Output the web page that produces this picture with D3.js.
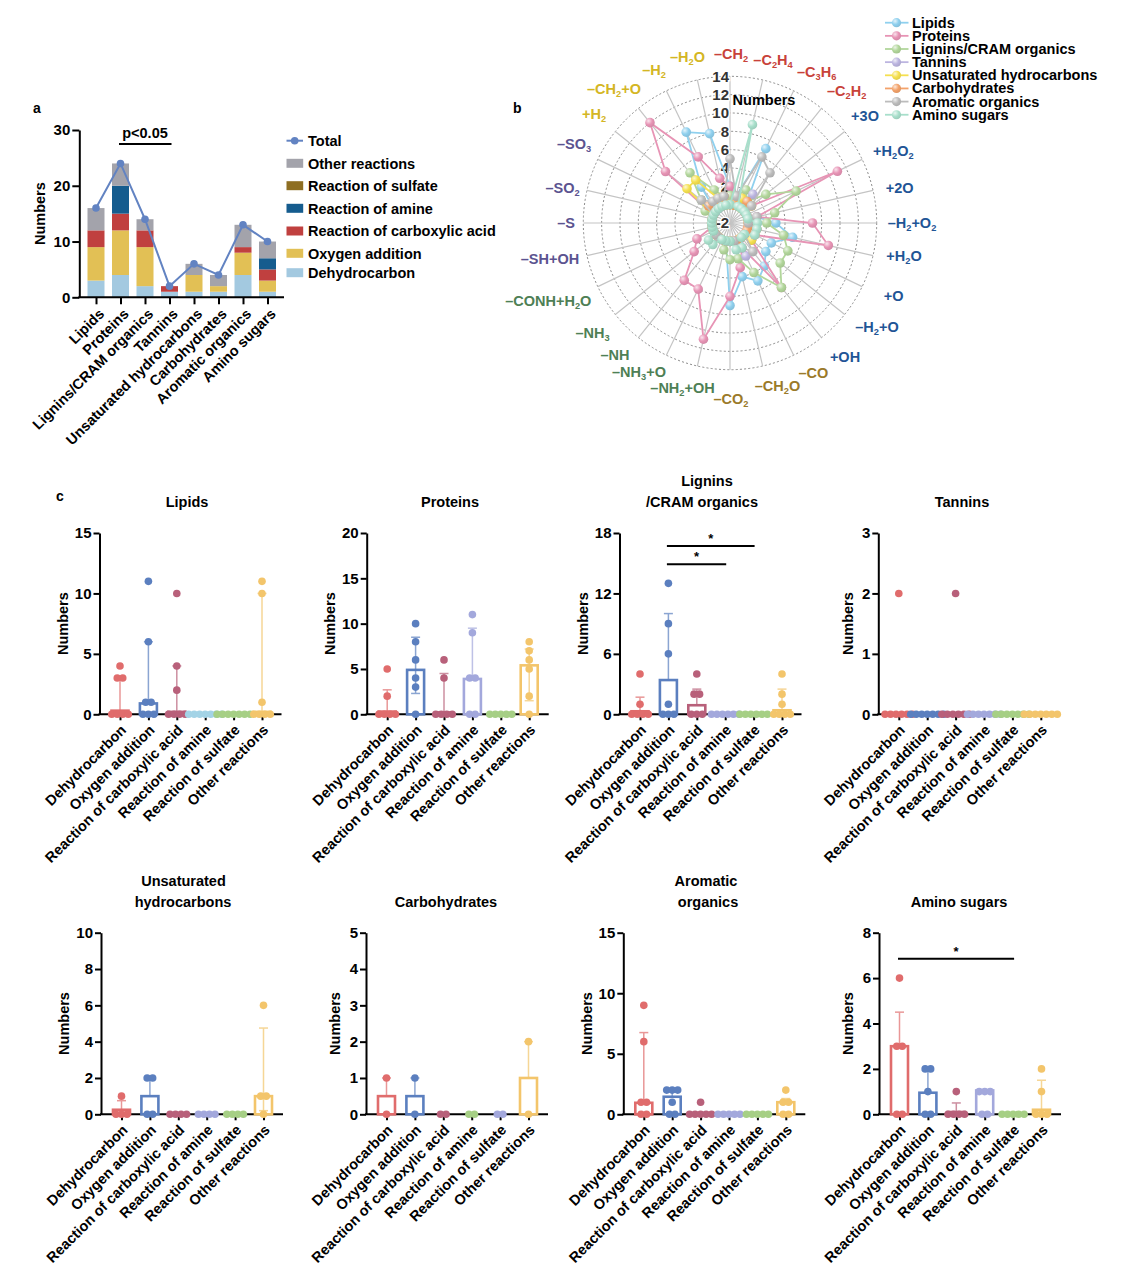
<!DOCTYPE html>
<html><head><meta charset="utf-8">
<script src="https://cdn.jsdelivr.net/npm/d3@7"></script>
<style>
body{margin:0;background:#fff}
svg{display:block}
text{font-family:"Liberation Sans",Arial,sans-serif;font-weight:bold;fill:#000}
</style></head>
<body><svg id="chart" width="1129" height="1286"></svg>
<script>
// ---------------- DATA ----------------
const classes = ["Lipids","Proteins","Lignins/CRAM organics","Tannins","Unsaturated hydrocarbons","Carbohydrates","Aromatic organics","Amino sugars"];
const reactionTypes = ["Dehydrocarbon","Oxygen addition","Reaction of carboxylic acid","Reaction of amine","Reaction of sulfate","Other reactions"];
// panel a stacked counts
const stackDehydrocarbon = [3,4,2,1,1,1,4,1];
const stackOxygen        = [6,8,7,0,3,1,4,2];
const stackCarboxylic    = [3,3,3,1,0,0,1,2];
const stackAmine         = [0,5,0,0,0,0,0,2];
const stackSulfate       = [0,0,0,0,0,0,0,0];
const stackOther         = [4,4,2,0,2,2,4,3];
const totals             = [16,24,14,2,6,4,13,10];
const aTicks = [0,10,20,30];

// panel b radar
const radarCats = ["–CH2","–C2H4","–C3H6","–C2H2","+3O","+H2O2","+2O","–H2+O2","+H2O","+O","–H2+O","+OH","–CO","–CH2O","–CO2","–NH2+OH","–NH3+O","–NH","–NH3","–CONH+H2O","–SH+OH","–S","–SO2","–SO3","+H2","–CH2+O","–H2","–H2O"];
const radarGroupOfCat = [0,0,0,0,1,1,1,1,1,1,1,1,2,2,2,3,3,3,3,3,4,4,4,4,5,5,5,5];
const radarTicks = [-2,2,4,6,8,10,12,14];
const radarRings = [0,2,4,6,8,10,12,14];
const radarLipids   = [2,1,7,1,0,0,1,3,5,3,3,4,5,4,7,0,0,0,0,0,0,0,0,0,0,3,9,8];
const radarProteins = [2,1,1,1,1,11,1,7,9,1,1,7,1,3,6,11,6,6,3,2,0,0,0,0,7,12,6,3];
const radarLignins  = [1,1,2,1,3,6,3,2,4,5,5,7,4,2,2,1,0,0,0,0,0,0,0,1,2,5,2,1];
const radarTannins  = [0,0,0,2,0,0,0,0,0,0,0,0,2,0,0,0,0,0,0,0,0,0,0,0,0,0,0,0];
const radarUnsat    = [0,0,1,0,1,0,0,0,1,1,1,0,0,0,0,0,0,0,0,0,0,0,0,0,4,4,1,0];
const radarCarbo    = [0,0,0,1,0,0,0,0,0,0,0,0,0,0,0,0,0,0,0,0,0,0,0,0,1,1,0,1];
const radarAromatic = [5,1,6,5,1,0,1,0,1,1,0,2,1,0,0,0,0,0,0,0,0,0,0,0,2,1,1,1];
const radarAmino    = [0,9,0,0,0,0,0,1,1,1,0,0,1,1,0,0,0,1,1,0,0,0,0,0,0,0,0,0];
const radarSeriesNames = ["Lipids","Proteins","Lignins/CRAM organics","Tannins","Unsaturated hydrocarbons","Carbohydrates","Aromatic organics","Amino sugars"];

// panel c
const lipidsDots = [[4,3,3,0,0,0,0],[11,6,1,1,0,0,0],[10,4,2,0,0,0,0],[0,0,0,0,0,0,0],[0,0,0,0,0,0,0],[11,10,1,0,0,0,0]];
const lipidsMean = [0.3,0.9,0.2,0,0,0.2];
const lipidsErrHi = [2.9,6,4,null,null,10];
const lipidsErrLo = [null,null,null,null,null,null];
const lipidsTicks = [0,5,10,15];

const proteinsDots = [[5,2,0,0,0,0],[10,8,6,4,3,0],[6,4,0,0,0,0],[11,9,4,4,0,0],[0,0,0,0,0],[8,7,6,5,2,0]];
const proteinsMean = [0.3,4.9,0.2,3.9,0,5.4];
const proteinsErrHi = [2.7,8.5,4.5,9.5,null,7.2];
const proteinsErrLo = [null,2.3,null,null,null,1.5];
const proteinsTicks = [0,5,10,15,20];

const ligninsDots = [[4,1,0,0,0,0],[13,9,6,1,0,0,0],[4,2,2,0,0,0],[0,0,0,0,0,0],[0,0,0,0,0,0],[4,2,1,0,0,0,0]];
const ligninsMean = [0.3,3.4,0.9,0,0,0.4];
const ligninsErrHi = [1.7,10,2.5,null,null,2.5];
const ligninsErrLo = [null,null,null,null,null,null];
const ligninsTicks = [0,6,12,18];
const ligninsSig = [[1,4,16.7],[1,3,14.9]];

const tanninsDots = [[2,0,0,0,0,0,0],[0,0,0,0,0,0,0],[2,0,0,0,0,0,0],[0,0,0,0,0,0,0],[0,0,0,0,0,0,0],[0,0,0,0,0,0,0]];
const tanninsMean = [0,0,0,0,0,0];
const tanninsErrHi = [null,null,null,null,null,null];
const tanninsErrLo = [null,null,null,null,null,null];
const tanninsTicks = [0,1,2,3];

const unsatDots = [[1,0,0,0],[2,2,0,0],[0,0,0,0],[0,0,0,0],[0,0,0,0],[6,1,1,0]];
const unsatMean = [0.25,1,0,0,0,1];
const unsatErrHi = [0.75,2,null,null,null,4.75];
const unsatErrLo = [null,null,null,null,null,0.2];
const unsatTicks = [0,2,4,6,8,10];

const carboDots = [[1,0],[1,0],[0,0],[0,0],[0,0],[2,0]];
const carboMean = [0.5,0.5,0,0,0,1];
const carboErrHi = [1,1,null,null,null,2];
const carboErrLo = [null,null,null,null,null,null];
const carboTicks = [0,1,2,3,4,5];

const aromaticDots = [[9,6,1,1,0,0],[2,2,2,1,0,0],[1,0,0,0,0,0],[0,0,0,0,0],[0,0,0,0,0],[2,1,1,0,0]];
const aromaticMean = [0.95,1.45,0.1,0,0,1.0];
const aromaticErrHi = [6.75,2,null,null,null,1.3];
const aromaticErrLo = [null,null,null,null,null,null];
const aromaticTicks = [0,5,10,15];

const aminoDots = [[6,3,3,0,0],[2,2,1,0,0],[1,0,0,0,0],[1,1,1,0,0],[0,0,0,0,0],[2,1,0,0,0]];
const aminoMean = [3,0.95,0.1,1.05,0,0.2];
const aminoErrHi = [4.5,2,0.5,null,null,1.5];
const aminoErrLo = [null,null,null,null,null,null];
const aminoTicks = [0,2,4,6,8];
const aminoSig = [[0,4,6.85]];

// ---------------- LAYOUT / STYLE ----------------
const FONT = '"Liberation Sans",Arial,sans-serif';
// radar label centres relative to the radar centre (layout only)
const radarLabelOffsets = [[1,-169],[43,-163],[86.7,-151.3],[116.7,-132],[135,-107],[163.3,-72],[169.7,-35.5],[182,-0.5],[174,33],[163.7,73],[147,103.7],[115,133.7],[83.3,149.5],[47.5,163],[1,176],[-47.5,164.5],[-91,148.7],[-115,132],[-137.5,109.5],[-181.7,78],[-180,36],[-164,0],[-167.5,-35.5],[-156,-79],[-136,-109],[-116,-134],[-76,-153],[-42.5,-166]];
const stackColors = {"Dehydrocarbon":"#a3c9e0","Oxygen addition":"#e2c055","Reaction of carboxylic acid":"#c0403f","Reaction of amine":"#155c8e","Reaction of sulfate":"#8e6e22","Other reactions":"#a3a3ab"};
const radarColors = ["#8fd0ee","#e794b5","#b2d69b","#bcb5e0","#f5e050","#f3a26a","#bcbcbc","#a8dfcb"];
const radarLabelColors = ["#c8423a","#1f5596","#9b7a2a","#4e8055","#5b5390","#d4b624"];
const cRed="#e06c6c", cBlue="#5b7fbf", cMauve="#b8607a", cLav="#a3a8dc", cGreen="#a6cf85", cYel="#f3c56b", cLBlue="#a3d3e6";
const defPal = [cRed,cBlue,cMauve,cLav,cGreen,cYel];
const fmtInt = d3.format("d");

const svg = d3.select("#chart");

svg.append("text").attr("x",33).attr("y",113).attr("font-size",14).text("a");
svg.append("text").attr("x",513).attr("y",113).attr("font-size",14).text("b");
svg.append("text").attr("x",56).attr("y",501).attr("font-size",14).text("c");

// ---------------- PANEL A ----------------
(function(){
  const y0=297.3, yTop=130;
  const y = d3.scaleLinear().domain([0,30]).range([y0,yTop]);
  const x = d3.scalePoint().domain(classes).range([96,267.5]);
  const bw = 17;
  const rows = classes.map((c,i)=>({cls:c,"Dehydrocarbon":stackDehydrocarbon[i],"Oxygen addition":stackOxygen[i],"Reaction of carboxylic acid":stackCarboxylic[i],"Reaction of amine":stackAmine[i],"Reaction of sulfate":stackSulfate[i],"Other reactions":stackOther[i]}));
  const series = d3.stack().keys(reactionTypes)(rows);
  const g = svg.append("g");
  g.selectAll("g.s").data(series).join("g").attr("fill",d=>stackColors[d.key])
    .selectAll("rect").data(d=>d).join("rect")
    .attr("x",d=>x(d.data.cls)-bw/2).attr("width",bw)
    .attr("y",d=>y(d[1])).attr("height",d=>y(d[0])-y(d[1]));
  const ya = g.append("g").attr("transform","translate(79.3,0)")
    .call(d3.axisLeft(y).tickValues(aTicks).tickFormat(fmtInt).tickSize(7).tickSizeOuter(0).tickPadding(2));
  ya.attr("font-family",FONT).attr("font-size",15).attr("font-weight","bold");
  ya.selectAll("path,line").attr("stroke","#000").attr("stroke-width",2);
  ya.selectAll("text").attr("fill","#000");
  const xa = g.append("g").attr("transform",`translate(0,${y0})`)
    .call(d3.axisBottom(x).tickSize(7).tickSizeOuter(0));
  xa.select(".domain").remove();
  xa.attr("font-family",FONT).attr("font-size",14.5).attr("font-weight","bold");
  xa.selectAll("line").attr("stroke","#000").attr("stroke-width",2);
  xa.selectAll("text").attr("fill","#000").attr("x",0).attr("y",0).attr("dy","0.35em")
    .attr("transform","translate(5,14) rotate(-45)").style("text-anchor","end");
  g.append("line").attr("x1",78.3).attr("x2",284).attr("y1",y0).attr("y2",y0).attr("stroke","#000").attr("stroke-width",2);
  const line = d3.line().x((d,i)=>x(classes[i])).y(d=>y(d));
  g.append("path").attr("d",line(totals)).attr("fill","none").attr("stroke","#6283c2").attr("stroke-width",2);
  g.selectAll("circle.t").data(totals).join("circle").attr("cx",(d,i)=>x(classes[i])).attr("cy",d=>y(d)).attr("r",3.8).attr("fill","#6283c2");
  const py = y(27.5);
  g.append("line").attr("x1",x(classes[1])-1.5).attr("x2",x(classes[3])+2).attr("y1",py).attr("y2",py).attr("stroke","#000").attr("stroke-width",2);
  g.append("text").attr("x",(x(classes[1])+x(classes[3]))/2).attr("y",py-6).attr("text-anchor","middle").attr("font-size",14.5).text("p<0.05");
  g.append("text").attr("transform",`translate(45,${(y0+yTop)/2}) rotate(-90)`).attr("text-anchor","middle").attr("font-size",14.5).text("Numbers");
  const legItems = ["Total","Other reactions","Reaction of sulfate","Reaction of amine","Reaction of carboxylic acid","Oxygen addition","Dehydrocarbon"];
  const legY = [140.7,163.3,185.7,208.3,231,253.3,272.7];
  legItems.forEach((k,i)=>{
    const yy = legY[i];
    if(k==="Total"){
      g.append("line").attr("x1",286.5).attr("x2",303).attr("y1",yy).attr("y2",yy).attr("stroke","#6283c2").attr("stroke-width",2);
      g.append("circle").attr("cx",294.7).attr("cy",yy).attr("r",3.8).attr("fill","#6283c2");
    } else {
      g.append("rect").attr("x",286.5).attr("y",yy-4.5).attr("width",16.7).attr("height",9).attr("fill",stackColors[k]);
    }
    g.append("text").attr("x",308).attr("y",yy).attr("dy","0.36em").attr("font-size",14.5).text(k);
  });
})();

// ---------------- PANEL B (radar) ----------------
(function(){
  const cx=730, cy=223;
  const r = d3.scaleLinear().domain([-2,14]).range([0,146.7]);
  const n = radarCats.length;
  const ang = i => i*2*Math.PI/n;
  const g = svg.append("g").attr("transform",`translate(${cx},${cy})`);
  const defs = svg.append("defs");
  radarColors.forEach((c,i)=>{
    const gr = defs.append("radialGradient").attr("id","rg"+i).attr("cx","35%").attr("cy","32%").attr("r","70%");
    gr.append("stop").attr("offset","0%").attr("stop-color",d3.interpolateRgb(c,"#ffffff")(0.75));
    gr.append("stop").attr("offset","55%").attr("stop-color",c);
    gr.append("stop").attr("offset","100%").attr("stop-color",d3.color(c).darker(0.25));
  });
  g.selectAll("circle.ring").data(radarRings).join("circle").attr("r",d=>r(d))
    .attr("fill","none").attr("stroke","#8a8a8a").attr("stroke-width",1).attr("stroke-dasharray","2,2.2");
  g.selectAll("line.sp").data(radarCats).join("line")
    .attr("x1",0).attr("y1",0)
    .attr("x2",(d,i)=>r(14)*Math.sin(ang(i))).attr("y2",(d,i)=>-r(14)*Math.cos(ang(i)))
    .attr("stroke","#c4c4c4").attr("stroke-width",1.2);
  g.selectAll("text.tk").data(radarTicks).join("text")
    .attr("x",-1).attr("y",d=>-r(d)).attr("dy","0.36em").attr("text-anchor","end")
    .attr("font-size",15).style("fill","#333")
    .attr("stroke","#fff").attr("stroke-width",2.5).attr("paint-order","stroke")
    .text(d=>d);
  const fs = 14.5;
  radarCats.forEach((s,i)=>{
    const t = g.append("text").attr("font-size",fs).style("fill",radarLabelColors[radarGroupOfCat[i]])
      .attr("text-anchor","middle").attr("dy","0.36em")
      .attr("x",radarLabelOffsets[i][0]).attr("y",radarLabelOffsets[i][1]);
    const parts = s.split(/(\d+)/).filter(p=>p.length);
    let prev = "", shifted=false;
    parts.forEach(p=>{
      const isDig = /^\d+$/.test(p);
      const sub = isDig && /[A-Za-z]/.test(prev);
      const ts = t.append("tspan").text(p);
      if(sub){ ts.attr("font-size",fs*0.64).attr("dy",3); shifted=true; }
      else if(shifted){ ts.attr("dy",-3); shifted=false; }
      prev = p[p.length-1];
    });
  });
  const allSeries = [radarLipids,radarProteins,radarLignins,radarTannins,radarUnsat,radarCarbo,radarAromatic,radarAmino];
  const lr = d3.lineRadial().angle((d,i)=>ang(i)).radius(d=>r(d)).curve(d3.curveLinearClosed);
  allSeries.forEach((vals,k)=>{
    const sg = g.append("g");
    sg.append("path").attr("d",lr(vals)).attr("fill","none").attr("stroke",radarColors[k]).attr("stroke-width",1.8);
    sg.selectAll("circle").data(vals).join("circle")
      .attr("cx",(d,i)=>r(d)*Math.sin(ang(i))).attr("cy",(d,i)=>-r(d)*Math.cos(ang(i)))
      .attr("r",4.8).attr("fill",`url(#rg${k})`);
  });
  g.append("text").attr("x",34).attr("y",-123).attr("dy","0.36em").attr("text-anchor","middle").attr("font-size",14.5).text("Numbers");
  const lg = svg.append("g");
  radarSeriesNames.forEach((nm,i)=>{
    const yy = 22.7 + i*13.15;
    lg.append("line").attr("x1",885).attr("x2",908.5).attr("y1",yy).attr("y2",yy).attr("stroke",radarColors[i]).attr("stroke-width",1.8);
    lg.append("circle").attr("cx",896.5).attr("cy",yy).attr("r",4.6).attr("fill",`url(#rg${i})`);
    lg.append("text").attr("x",912).attr("y",yy).attr("dy","0.34em").attr("font-size",14.5).text(nm);
  });
})();

// ---------------- PANEL C ----------------
const rowY0 = [714.3,1114.3], rowTop=[533,932.7];
const panels = [
  {L:99.5, row:0, title:["Lipids"], tx:[187], dots:lipidsDots, mean:lipidsMean, hi:lipidsErrHi, lo:lipidsErrLo, ticks:lipidsTicks, pal:[cRed,cBlue,cMauve,cLBlue,cGreen,cYel], sig:[]},
  {L:366.7,row:0, title:["Proteins"], tx:[450], dots:proteinsDots, mean:proteinsMean, hi:proteinsErrHi, lo:proteinsErrLo, ticks:proteinsTicks, pal:defPal, sig:[]},
  {L:619.5,row:0, title:["Lignins","/CRAM organics"], tx:[707,702], dots:ligninsDots, mean:ligninsMean, hi:ligninsErrHi, lo:ligninsErrLo, ticks:ligninsTicks, pal:defPal, sig:ligninsSig},
  {L:878.3,row:0, title:["Tannins"], tx:[962], dots:tanninsDots, mean:tanninsMean, hi:tanninsErrHi, lo:tanninsErrLo, ticks:tanninsTicks, pal:defPal, sig:[]},
  {L:101,  row:1, title:["Unsaturated","hydrocarbons"], tx:[183.5,183], dots:unsatDots, mean:unsatMean, hi:unsatErrHi, lo:unsatErrLo, ticks:unsatTicks, pal:defPal, sig:[]},
  {L:366,  row:1, title:["Carbohydrates"], tx:[446], dots:carboDots, mean:carboMean, hi:carboErrHi, lo:carboErrLo, ticks:carboTicks, pal:[cRed,cBlue,cMauve,cGreen,cLav,cYel], sig:[]},
  {L:623.3,row:1, title:["Aromatic","organics"], tx:[706,708], dots:aromaticDots, mean:aromaticMean, hi:aromaticErrHi, lo:aromaticErrLo, ticks:aromaticTicks, pal:defPal, sig:[]},
  {L:879,  row:1, title:["Amino sugars"], tx:[959], dots:aminoDots, mean:aminoMean, hi:aminoErrHi, lo:aminoErrLo, ticks:aminoTicks, pal:defPal, sig:aminoSig}
];
panels.forEach(p=>{
  const y0=rowY0[p.row], top=rowTop[p.row];
  const y = d3.scaleLinear().domain([0,d3.max(p.ticks)]).range([y0,top]);
  const x = d3.scalePoint().domain(reactionTypes).range([p.L+20.5,p.L+20.5+5*28.4]);
  const g = svg.append("g");
  const tY = p.title.length===2 ? [rowTop[p.row]-52, rowTop[p.row]-31] : [rowTop[p.row]-31];
  p.title.forEach((t,i)=>g.append("text").attr("x",p.tx[i]).attr("y",tY[i]).attr("dy","0.36em").attr("text-anchor","middle").attr("font-size",14.5).text(t));
  const ya = g.append("g").attr("transform",`translate(${p.L},0)`)
    .call(d3.axisLeft(y).tickValues(p.ticks).tickFormat(fmtInt).tickSize(6).tickSizeOuter(0).tickPadding(2));
  ya.attr("font-family",FONT).attr("font-size",15).attr("font-weight","bold");
  ya.selectAll("path,line").attr("stroke","#000").attr("stroke-width",2);
  ya.selectAll("text").attr("fill","#000");
  const xa = g.append("g").attr("transform",`translate(0,${y0})`)
    .call(d3.axisBottom(x).tickSize(6).tickSizeOuter(0));
  xa.select(".domain").remove();
  xa.attr("font-family",FONT).attr("font-size",14.5).attr("font-weight","bold");
  xa.selectAll("line").attr("stroke","#000").attr("stroke-width",2);
  xa.selectAll("text").attr("fill","#000").attr("x",0).attr("y",0).attr("dy","0.35em")
    .attr("transform","translate(3,13) rotate(-45)").style("text-anchor","end");
  g.append("line").attr("x1",p.L-1).attr("x2",p.L+182).attr("y1",y0).attr("y2",y0).attr("stroke","#000").attr("stroke-width",2);
  const digits = String(d3.max(p.ticks)).length;
  g.append("text").attr("transform",`translate(${p.L-25-6*digits},${(y0+top)/2}) rotate(-90)`).attr("text-anchor","middle").attr("dy","0.36em").attr("font-size",14.5).text("Numbers");
  const bw=17;
  reactionTypes.forEach((rt,i)=>{
    const cxp = x(rt), col = p.pal[i];
    const m = p.mean[i];
    if(m>0.05){
      g.append("rect").attr("x",cxp-bw/2).attr("width",bw).attr("y",y(m)).attr("height",y0-y(m))
        .attr("fill","none").attr("stroke",col).attr("stroke-width",2.6);
    }
    const eg = g.append("g").attr("stroke",col).attr("stroke-width",1.5).attr("opacity",0.7);
    if(p.hi[i]!=null){
      eg.append("line").attr("x1",cxp).attr("x2",cxp).attr("y1",y(m)).attr("y2",y(p.hi[i]));
      eg.append("line").attr("x1",cxp-4.5).attr("x2",cxp+4.5).attr("y1",y(p.hi[i])).attr("y2",y(p.hi[i]));
    }
    if(p.lo[i]!=null){
      eg.append("line").attr("x1",cxp).attr("x2",cxp).attr("y1",y(m)).attr("y2",y(p.lo[i]));
      eg.append("line").attr("x1",cxp-4.5).attr("x2",cxp+4.5).attr("y1",y(p.lo[i])).attr("y2",y(p.lo[i]));
    }
    const groups = d3.group(p.dots[i], v=>v);
    groups.forEach((arr,v)=>{
      const k = arr.length;
      arr.forEach((vv,j)=>{
        g.append("circle").attr("cx",cxp+(j-(k-1)/2)*5.5).attr("cy",y(vv)).attr("r",3.8).attr("fill",col);
      });
    });
  });
  p.sig.forEach(s=>{
    const yy=y(s[2]);
    const x1=x(reactionTypes[s[0]])-1.5, x2=x(reactionTypes[s[1]])+1;
    g.append("line").attr("x1",x1).attr("x2",x2).attr("y1",yy).attr("y2",yy).attr("stroke","#000").attr("stroke-width",2);
    g.append("text").attr("x",(x1+x2)/2).attr("y",yy-3).attr("text-anchor","middle").attr("font-size",13).text("*");
  });
});
</script></body></html>
